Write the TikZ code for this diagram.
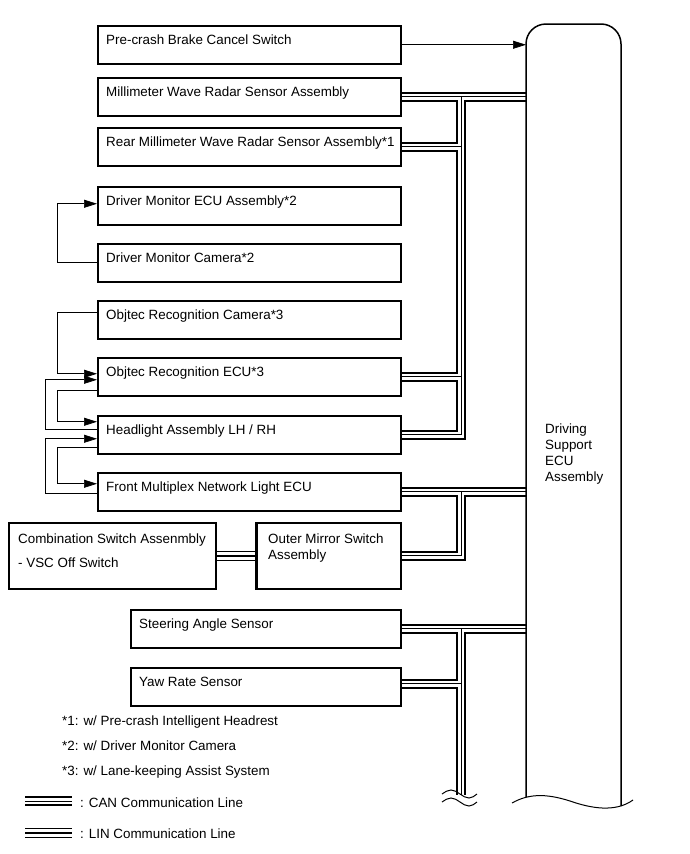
\documentclass[tikz,border=0pt]{standalone}
\usepackage{fontspec}
\setmainfont{Liberation Sans}
\usetikzlibrary{arrows.meta,calc}
\begin{document}
\begin{tikzpicture}[x=1pt,y=-1pt,
  box/.style={draw, line width=1.5pt, inner sep=0pt, anchor=north west, minimum height=38pt, minimum width=303pt},
  lbl/.style={anchor=base west, inner sep=0pt, font=\fontsize{13.4}{16}\selectfont},
  conn/.style={draw, line width=0.7pt, -{Triangle[length=13pt,width=8pt]}},
  can/.style={draw=black, line width=10.5pt, postaction={draw=white, line width=6pt}, postaction={draw=black, line width=0.9pt}},
  lin/.style={draw=black, line width=10pt, postaction={draw=white, line width=8.4pt}, postaction={draw=black, line width=2.4pt}},
  brk/.style={draw, line width=1pt}
]
\useasboundingbox (0,0) rectangle (690,854);

% ECU region (invisible node for connector targets)
\node[anchor=north west, minimum width=95pt, minimum height=780pt, inner sep=0pt] (ecu) at (526,24) {};
\coordinate (busx) at (461,0);

% boxes
\node[box] (pre) at (97,25) {};
\node[box] (mi) at (97,77) {};
\node[box] (re) at (97,127) {};
\node[box] (dmecu) at (97,186) {};
\node[box] (dmcam) at (97,243) {};
\node[box] (objcam) at (97,300) {};
\node[box] (objecu) at (97,357) {};
\node[box] (hl) at (97,415) {};
\node[box] (fm) at (97,472) {};
\node[box, minimum width=207pt, minimum height=66pt] (comb) at (8,522) {};
\node[box, minimum width=144pt, minimum height=66pt] (om) at (256,522) {};
\node[box, minimum width=270pt] (st) at (130,609) {};
\node[box, minimum width=270pt] (yaw) at (130,667) {};

% box texts
\node[lbl] (pretxt) at ([shift={(9,19)}]pre.north west) {Pre-crash Brake Cancel Switch};
\node[lbl] (mitxt) at ([shift={(9,19)}]mi.north west) {Millimeter Wave Radar Sensor Assembly};
\node[lbl] (retxt) at ([shift={(9,19)}]re.north west) {Rear Millimeter Wave Radar Sensor Assembly*1};
\node[lbl] (dmecutxt) at ([shift={(9,19)}]dmecu.north west) {Driver Monitor ECU Assembly*2};
\node[lbl] (dmcamtxt) at ([shift={(9,19)}]dmcam.north west) {Driver Monitor Camera*2};
\node[lbl] (objcamtxt) at ([shift={(9,19)}]objcam.north west) {Objtec Recognition Camera*3};
\node[lbl] (objecutxt) at ([shift={(9,19)}]objecu.north west) {Objtec Recognition ECU*3};
\node[lbl] (hltxt) at ([shift={(9,19)}]hl.north west) {Headlight Assembly LH / RH};
\node[lbl] (fmtxt) at ([shift={(9,19)}]fm.north west) {Front Multiplex Network Light ECU};
\node[lbl] (combtxt1) at ([shift={(10,21)}]comb.north west) {Combination Switch Assenmbly};
\node[lbl] (combtxt2) at ([shift={(10,45)}]comb.north west) {- VSC Off Switch};
\node[lbl] (omtxt1) at ([shift={(12,21)}]om.north west) {Outer Mirror Switch};
\node[lbl] (omtxt2) at ([shift={(12,37)}]om.north west) {Assembly};
\node[lbl] (sttxt) at ([shift={(9,19)}]st.north west) {Steering Angle Sensor};
\node[lbl] (yawtxt) at ([shift={(9,19)}]yaw.north west) {Yaw Rate Sensor};

% ECU text
\node[anchor=north west, align=left, inner sep=0pt, font=\fontsize{13.4}{16}\selectfont] (ecutxt) at (545,424) {Driving\\Support\\ECU\\Assembly};

% CAN buses
\path[can] (mi.east) -- (mi.east -| ecu.west)
  (mi.east -| busx) -- (hl.east -| busx) -- (hl.east)
  (re.east) -- (re.east -| busx)
  (objecu.east) -- (objecu.east -| busx);
\path[can] (fm.east) -- (fm.east -| ecu.west)
  (fm.east -| busx) -- (om.east -| busx) -- (om.east);
\coordinate (busend) at (461,795);
\path[can] (st.east) -- (st.east -| ecu.west)
  (st.east -| busx) -- (busend)
  ([yshift=3pt]yaw.east) -- ([yshift=3pt]yaw.east -| busx);
% LIN bus
\path[lin] (comb.east) -- (om.west);

% bus break symbol
\draw[brk] (442,794) sin (451,790) cos (460,794) sin (469,798) cos (477,794);
\draw[brk] (442,802) sin (451,798) cos (460,802) sin (469,806) cos (477,802);

% ECU outline with break line
\draw[line width=1.5pt, rounded corners=20pt] (526,797) -- (526,24) -- (621,24) -- (621,806);
\draw[brk] (512,803) .. controls (528,794) and (545,793) .. (570,801) .. controls (590,808) and (615,813) .. (633,800);

% redraw box borders over bus ends
\foreach \b in {mi,re,objecu,hl,fm,comb,om,st,yaw} {\draw[line width=1.5pt] (\b.north east) -- (\b.south east);}
\draw[line width=1.5pt] (om.north west) -- (om.south west);

% signal connectors
\draw[conn] (pre.east) -- (pre.east -| ecu.west);
\draw[conn] (dmcam.west) -- ++(-40,0) |- ([yshift=2pt]dmecu.west);
\draw[conn] ([yshift=7pt]objcam.west) -- ++(-40,0) |- ([yshift=3pt]objecu.west);
\draw[conn] ([yshift=5pt]hl.west) -- ++(-52,0) |- ([yshift=-3pt]objecu.west);
\draw[conn] ([yshift=-14pt]objecu.west) -- ++(-40,0) |- ([yshift=13pt]hl.west);
\draw[conn] ([yshift=-2pt]fm.west) -- ++(-52,0) |- ([yshift=-4pt]hl.west);
\draw[conn] ([yshift=-13pt]hl.west) -- ++(-40,0) |- ([yshift=8pt]fm.west);

% footnotes
\node[lbl] (fn1) at (62,725) {*1: w/ Pre-crash Intelligent Headrest};
\node[lbl] (fn2) at (62,750) {*2: w/ Driver Monitor Camera};
\node[lbl] (fn3) at (62,775) {*3: w/ Lane-keeping Assist System};

% legend
\coordinate (canA) at (25,801);
\coordinate (canB) at (72,801);
\coordinate (linA) at (25,833);
\coordinate (linB) at (72,833);
\path[can] (canA) -- (canB);
\path[lin] (linA) -- (linB);
\node[lbl] (cantxt) at (80,807) {: CAN Communication Line};
\node[lbl] (lintxt) at (80,838) {: LIN Communication Line};
\end{tikzpicture}
\end{document}
